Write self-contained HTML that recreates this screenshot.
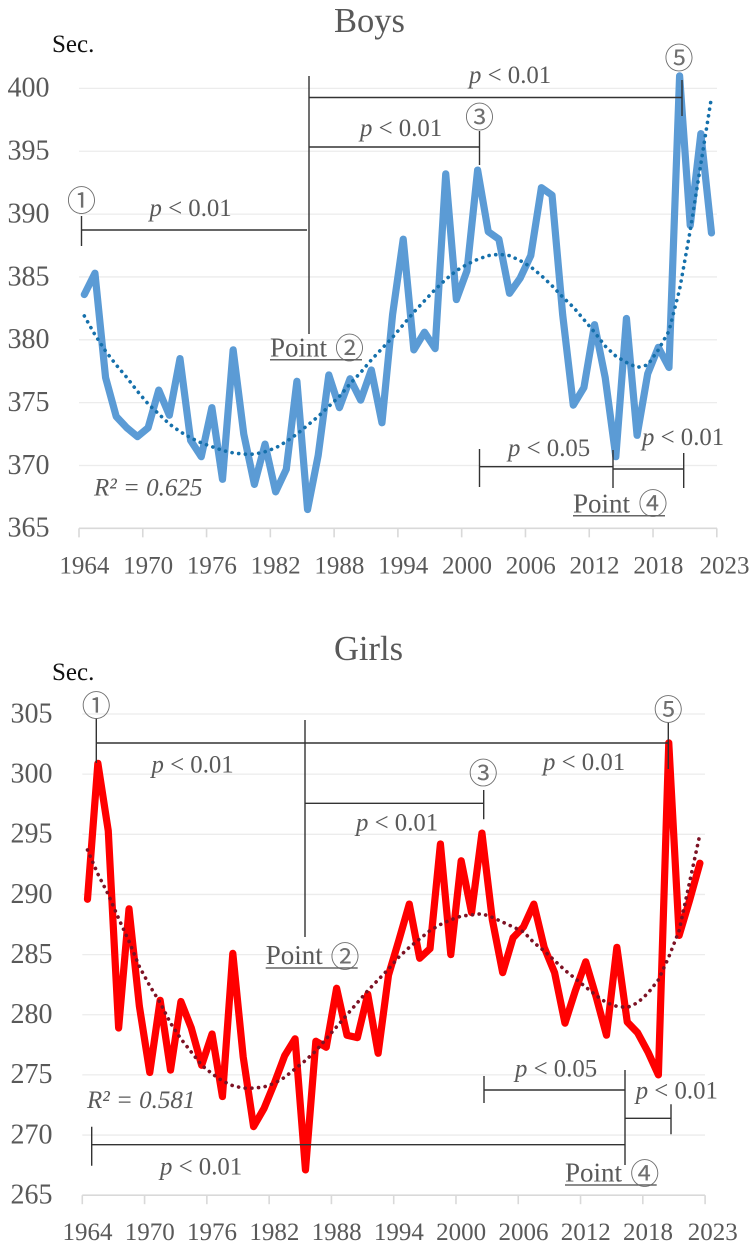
<!DOCTYPE html>
<html lang="en">
<head>
<meta charset="utf-8">
<title>Boys and Girls endurance run times 1964-2023</title>
<style>
html,body{margin:0;padding:0;background:#fff;}
svg{display:block;position:absolute;left:0;top:0;}
text{font-family:"Liberation Serif","Noto Sans CJK JP",serif;fill:#595959;}
.sig{font-size:24.8px;}
.pt{font-size:27px;}
.circ{font-size:29px;fill:#6f6f6f;font-family:"Noto Sans CJK JP","Liberation Sans",sans-serif;text-anchor:middle;}
.sec{font-size:25px;fill:#111;}
.title{font-size:34.5px;}
.r2{font-size:25px;font-style:italic;}
.br{stroke:#333;stroke-width:1.4;fill:none;}
.ul{stroke:#666;stroke-width:1.5;fill:none;}
</style>
</head>
<body>
<svg id="root" width="755" height="1254" viewBox="0 0 755 1254" xmlns="http://www.w3.org/2000/svg">
<g id="boys-plot"></g>
<g id="boys-notes">
<text class="title" x="334" y="32">Boys</text>
<text class="sec" x="52" y="52">Sec.</text>
<path class="br" d="M309 76V334"/>
<path class="br" d="M309 97.5H682M682 80V116"/>
<path class="br" d="M309 147H479.5M479.5 131V165"/>
<path class="br" d="M81.5 230H307M81.5 216V246"/>
<path class="br" d="M479.5 449V487M479.5 466.7H613M613 450V488M613 469H683.7M683.7 453V488"/>
<text class="circ" x="81.5" y="210.9">①</text>
<text class="circ" x="479.5" y="127.4">③</text>
<text class="circ" x="679" y="68.4">⑤</text>
<text class="sig" x="149.5" y="216"><tspan font-style="italic">p</tspan> &lt; 0.01</text>
<text class="sig" x="469" y="83"><tspan font-style="italic">p</tspan> &lt; 0.01</text>
<text class="sig" x="360" y="136"><tspan font-style="italic">p</tspan> &lt; 0.01</text>
<text class="sig" x="508" y="456"><tspan font-style="italic">p</tspan> &lt; 0.05</text>
<text class="sig" x="642" y="445"><tspan font-style="italic">p</tspan> &lt; 0.01</text>
<text class="r2" x="94" y="495.5">R² = 0.625</text>
<text class="pt" x="270" y="356.5">Point</text>
<text class="circ" x="349.5" y="358.4">②</text>
<path class="ul" d="M270 359.7H362"/>
<text class="pt" x="573" y="512.5">Point</text>
<text class="circ" x="653" y="514.2">④</text>
<path class="ul" d="M573 515.7H665"/>
</g>
<g id="girls-plot"></g>
<g id="girls-notes">
<text class="title" x="334" y="660">Girls</text>
<text class="sec" x="52" y="680">Sec.</text>
<path class="br" d="M305 720V937"/>
<path class="br" d="M96.3 718V763M96.3 743H668.3M668.3 722.7V769"/>
<path class="br" d="M305 803.3H483.7M483.7 790V819.3"/>
<path class="br" d="M91.7 1126.7V1165.7M91.7 1144.7H625M625 1070V1165"/>
<path class="br" d="M484 1090H625M484 1076V1103"/>
<path class="br" d="M625 1118.3H671M671 1104.3V1134.3"/>
<text class="circ" x="96.3" y="715.9">①</text>
<text class="circ" x="483.3" y="783.6">③</text>
<text class="circ" x="668.3" y="719.9">⑤</text>
<text class="sig" x="151.5" y="772.7"><tspan font-style="italic">p</tspan> &lt; 0.01</text>
<text class="sig" x="543" y="770"><tspan font-style="italic">p</tspan> &lt; 0.01</text>
<text class="sig" x="356" y="830.7"><tspan font-style="italic">p</tspan> &lt; 0.01</text>
<text class="sig" x="160" y="1174.3"><tspan font-style="italic">p</tspan> &lt; 0.01</text>
<text class="sig" x="515" y="1076.7"><tspan font-style="italic">p</tspan> &lt; 0.05</text>
<text class="sig" x="635.7" y="1098.3"><tspan font-style="italic">p</tspan> &lt; 0.01</text>
<text class="r2" x="87" y="1108">R² = 0.581</text>
<text class="pt" x="265.7" y="964">Point</text>
<text class="circ" x="345" y="966.9">②</text>
<path class="ul" d="M265.7 968H357.7"/>
<text class="pt" x="565" y="1181.7">Point</text>
<text class="circ" x="644.7" y="1184.2">④</text>
<path class="ul" d="M565 1185H656.7"/>
</g>
</svg>
<script>
const xTickLabels = ["1964","1970","1976","1982","1988","1994","2000","2006","2012","2018","2023"];
const boysYTicks = [400,395,390,385,380,375,370,365];
const girlsYTicks = [305,300,295,290,285,280,275,270,265];
const boysValues = [383.6,385.3,377,373.9,373,372.3,373,376,374,378.5,372,370.7,374.6,368.9,379.2,372.5,368.5,371.7,367.9,369.7,376.7,366.5,370.8,377.2,374.6,376.9,375.2,377.6,373.4,382,388,379.2,380.6,379.3,393.2,383.2,385.5,393.5,388.6,388,383.7,384.9,386.7,392.1,391.5,382,374.8,376.2,381.2,377,370.7,381.7,372.4,377.3,379.4,377.8,401,389.1,396.4,388.5];
const boysTrend = [381.9,380.4,379.1,378,377,375.9,374.9,374.1,373.3,372.7,372.2,371.8,371.5,371.2,371,370.9,370.9,371.1,371.4,371.9,372.5,373.2,373.9,374.7,375.5,376.5,377.4,378.4,379.3,380.2,381.2,382.2,383.1,384,384.8,385.5,386,386.4,386.7,386.8,386.7,386.3,385.8,385.1,384.3,383.4,382.6,381.6,380.6,379.5,378.7,378.2,377.8,378,379.2,380.7,384,388.7,394,399.3];
const girlsValues = [289.6,300.9,295.3,278.9,288.8,280.7,275.2,281.2,275.4,281.1,278.9,275.8,278.4,273.2,285.1,276.5,270.7,272.2,274.3,276.6,278,267.1,277.8,277.3,282.2,278.3,278.1,281.7,276.8,283.3,286.2,289.2,284.7,285.5,294.2,285,292.8,288.5,295.1,287.9,283.5,286.4,287.3,289.2,285.6,283.5,279.3,282,284.4,281.5,278.3,285.6,279.4,278.5,276.9,275,302.6,286.6,289.5,292.6];
const girlsTrend = [293.7,291.7,290,288,286.1,284,282.4,281,279.3,278,276.9,275.8,275.1,274.5,274.1,273.9,273.9,274,274.3,274.8,275.5,276.2,277,278,279,280,281,282,282.9,283.8,284.8,285.6,286.3,287,287.5,287.9,288.2,288.3,288.4,288.1,287.7,287.3,286.9,286,285.3,284.5,283.7,283,282.3,281.6,281,280.7,280.6,281,281.8,282.9,284.8,287,291,295];

const NS = 'http://www.w3.org/2000/svg';

function make(tag, attrs, parent) {
  const node = document.createElementNS(NS, tag);
  for (const key in attrs) node.setAttribute(key, attrs[key]);
  parent.appendChild(node);
  return node;
}

function drawChart(group, prefix, yTicks, values, trend, geo) {
  const yOf = v => geo.yTop + (yTicks[0] - v) * geo.pxPerUnit;
  const xOf = i => geo.xLeft + geo.step * (i + 0.5);
  const tickX = i => geo.xLeft + geo.step * i * 6;
  const yBase = yOf(yTicks[yTicks.length - 1]);

  yTicks.forEach((v, i) => {
    if (i < yTicks.length - 1) {
      const grid = make('line', {x1: geo.xLeft, x2: geo.xRight, y1: yOf(v), y2: yOf(v), stroke: '#ececec', 'stroke-width': 1.3}, group);
      
      
    }
    const label = make('text', {x: geo.yLabelX, y: yOf(v) + 8.3, 'text-anchor': 'end', 'font-size': 28}, group);
    label.textContent = String(v);
    
    
  });

  const axis = make('line', {x1: geo.xLeft, x2: geo.xRight, y1: yBase, y2: yBase, stroke: '#d9d9d9', 'stroke-width': 1.6}, group);
  
  

  xTickLabels.forEach((t, i) => {
    const tick = make('line', {x1: tickX(i), x2: tickX(i), y1: yBase, y2: yBase + 9, stroke: '#d9d9d9', 'stroke-width': 1.6}, group);
    
    
    const extra = i === xTickLabels.length - 1 ? 2.4 : 0;
    const label = make('text', {x: xOf(i * 6) + extra, y: yBase + geo.xLabelDy, 'text-anchor': 'middle', 'font-size': 25}, group);
    label.textContent = t;
    
    
  });

  const line = make('polyline', {points: values.map((v, i) => xOf(i) + ',' + yOf(v)).join(' '), fill: 'none', stroke: geo.lineColor, 'stroke-width': 7.2, 'stroke-linejoin': 'round', 'stroke-linecap': 'round'}, group);
  
  

  const dots = make('polyline', {points: trend.map((v, i) => xOf(i) + ',' + yOf(v)).join(' '), fill: 'none', stroke: geo.trendColor, 'stroke-width': 3.6, 'stroke-linecap': 'round', 'stroke-dasharray': '0.1 6.6'}, group);
  
  
}

drawChart(document.getElementById('boys-plot'), 'boys', boysYTicks, boysValues, boysTrend, {
  yTop: 88.4, pxPerUnit: 12.57, xLeft: 79, xRight: 717, step: 10.63, yLabelX: 49.5, xLabelDy: 45, lineColor: '#5b9bd5', trendColor: '#1570ab'
});
drawChart(document.getElementById('girls-plot'), 'girls', girlsYTicks, girlsValues, girlsTrend, {
  yTop: 714, pxPerUnit: 12.03, xLeft: 82.3, xRight: 705, step: 10.38, yLabelX: 52.5, xLabelDy: 45, lineColor: '#ff0000', trendColor: '#7d1224'
});
</script>
</body>
</html>
